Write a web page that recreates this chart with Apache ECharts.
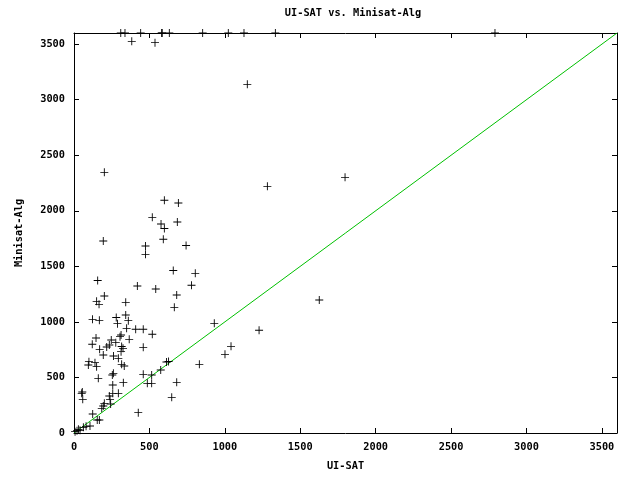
<!DOCTYPE html>
<html>
<head>
<meta charset="utf-8">
<script src="https://cdn.jsdelivr.net/npm/echarts@6/dist/echarts.min.js"></script>
<style>
html,body{margin:0;padding:0;background:#fff;overflow:hidden;}
#chart{width:618px;height:477px;}
</style>
</head>
<body>
<div id="chart"></div>
<script>
// ---- data ----
var uiSat = [
  310, 338, 442, 581, 585, 632, 853, 1023, 1127, 1335, 2791,
  383, 537, 1149, 1282, 1797, 201, 599, 692, 519, 577, 599, 685, 592, 194, 474, 743, 474, 658, 804,
  157, 420, 542, 779, 201, 681, 150, 166, 343, 665, 1626,
  123, 168, 280, 343, 360, 288, 349, 409, 459, 930, 1227, 519, 312, 305, 146, 366, 247, 277, 121,
  234, 316, 217, 325, 459, 170, 1041, 1001, 831,
  194, 312, 262, 294, 99, 95, 139, 150, 316, 333, 261, 254, 161, 327, 257, 459, 515, 486, 515,
  575, 613, 627, 681, 648, 426, 51, 55, 58, 257, 234, 294, 239, 201, 194, 184, 243, 124, 154, 168,
  106, 62, 29, 7, 40, 20, 80
];
var minisatAlg = [
  3600, 3600, 3600, 3600, 3600, 3600, 3600, 3600, 3600, 3600, 3600,
  3525, 3513, 3138, 2220, 2301, 2346, 2095, 2070, 1941, 1881, 1840, 1899, 1744, 1728, 1683, 1688, 1608, 1462, 1437,
  1372, 1323, 1296, 1330, 1233, 1242, 1185, 1158, 1176, 1131, 1197,
  1023, 1014, 1040, 1062, 1011, 984, 942, 934, 934, 987, 925, 889, 882, 867, 855, 843, 837, 813, 799,
  792, 779, 774, 762, 771, 753, 780, 708, 618,
  702, 732, 693, 672, 642, 612, 633, 597, 618, 603, 537, 522, 492, 453, 432, 528, 522, 447, 447,
  567, 639, 643, 456, 321, 183, 357, 369, 303, 357, 333, 357, 303, 267, 243, 222, 261, 171, 117, 117,
  63, 51, 33, 12, 25, 20, 60
];
var diagonalX = [0, 3600];
var diagonalY = [0, 3600];
var axisMin = 0, axisMax = 3600, tickStep = 500;

var points = uiSat.map(function (x, i) { return [x, minisatAlg[i]]; });
var diag = diagonalX.map(function (x, i) { return [x, diagonalY[i]]; });

var FONT = '"DejaVu Sans Mono", "Liberation Mono", monospace';
var labelStyle = { color: '#000', fontFamily: FONT, fontWeight: 'bold', fontSize: 10.3 };

function baseAxis(extra, withLabels) {
  var a = {
    type: 'value', min: axisMin, max: axisMax, interval: tickStep,
    axisLine: { show: true, onZero: false, lineStyle: { color: '#000', width: 1 } },
    axisTick: { show: true, inside: true, length: 5, lineStyle: { color: '#000', width: 1 } },
    axisLabel: withLabels ? Object.assign({
      show: true, showMaxLabel: false, margin: 9,
      formatter: function (v) { return String(v); }
    }, labelStyle) : { show: false },
    splitLine: { show: false }
  };
  return Object.assign(a, extra);
}

var chart = echarts.init(document.getElementById('chart'), null, { renderer: 'canvas', width: 618, height: 477 });
chart.setOption({
  backgroundColor: '#fff',
  animation: false,
  title: {
    text: 'UI-SAT vs. Minisat-Alg',
    left: 348, top: 3, textAlign: 'center',
    textStyle: { color: '#000', fontFamily: FONT, fontWeight: 'bold', fontSize: 10.3 }
  },
  grid: { left: 74, right: 1, top: 33, bottom: 44, containLabel: false, outerBoundsMode: 'none' },
  xAxis: [
    baseAxis({ position: 'bottom', name: 'UI-SAT', nameLocation: 'middle', nameGap: 28,
      nameTextStyle: labelStyle }, true),
    baseAxis({ position: 'top' }, false)
  ],
  yAxis: [
    baseAxis({ position: 'left', name: 'Minisat-Alg', nameLocation: 'middle', nameGap: 50,
      nameTextStyle: labelStyle }, true),
    baseAxis({ position: 'right' }, false)
  ],
  series: [
    {
      type: 'line', data: diag, xAxisIndex: 0, yAxisIndex: 0,
      showSymbol: false, symbol: 'none',
      lineStyle: { color: '#00c000', width: 1 }, z: 1
    },
    {
      type: 'scatter', data: points, xAxisIndex: 0, yAxisIndex: 0,
      symbol: 'path://M0,4H9V5H0ZM4,0H5V9H4Z', symbolSize: 8,
      itemStyle: { color: '#000', opacity: 1 }, z: 2
    }
  ]
});
</script>
</body>
</html>
